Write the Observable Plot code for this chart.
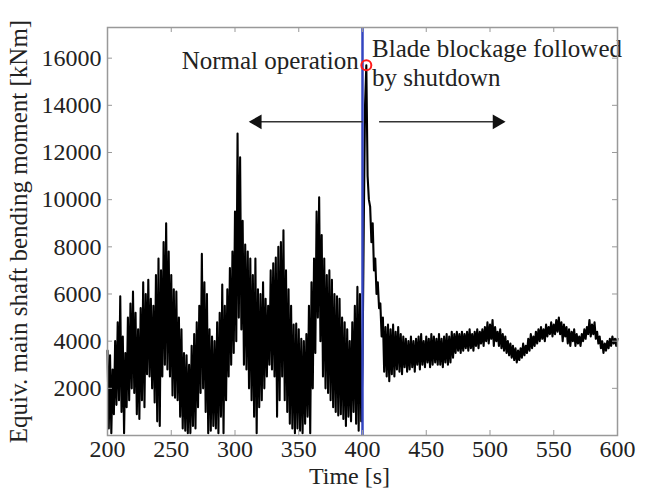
<!DOCTYPE html>
<html><head><meta charset="utf-8">
<script src="https://cdn.jsdelivr.net/npm/d3@7"></script>
<script src="https://cdn.jsdelivr.net/npm/@observablehq/plot@0.6"></script>
<style>body{margin:0;background:#fff}</style>
</head><body><div id="chart"></div>
<script>
// Time axis and value axis ticks
const xTicks = [200, 250, 300, 350, 400, 450, 500, 550, 600];
const yTicks = [2000, 4000, 6000, 8000, 10000, 12000, 14000, 16000];

// Sampling of the series (s)
const sampleStep = 1;

// Normal operation: t = 200 ... 399 s (kNm)
const normalStart = 200;
const normalValues = [
  3600,300,3400,100,2800,900,4000,1300,4800,1500,
  5900,1000,4200,100,3500,1200,5000,1500,5600,2000,
  6100,1800,5200,900,4500,700,5400,1500,6500,1200,
  6000,2600,6600,2500,5800,2000,5500,1400,6800,600,
  7500,400,7000,2500,8200,3000,9000,2800,7800,2500,
  6800,1700,6200,1600,6100,1500,5000,800,4500,300,
  3500,200,3400,100,3000,100,3800,400,4300,300,
  4800,1200,5500,1800,7700,2000,6500,1000,6000,100,
  4500,200,4200,400,4000,300,4800,100,5200,800,
  6400,100,5500,1500,6200,2500,7100,3000,7800,3500,
  9500,4000,12800,5000,11800,4500,9100,3000,8100,2800,
  7800,2000,7500,1500,6800,800,7500,100,6200,1200,
  6000,1500,6500,2000,5800,2500,5500,3000,7000,2800,
  7300,2500,7550,800,8000,1500,8200,2500,8700,1500,
  7000,1000,6200,500,5500,300,4700,100,4750,300,
  4500,200,4100,100,4000,500,4300,800,5500,100,
  6500,2000,7500,3500,9500,5000,10100,4000,8500,2500,
  7500,2000,6800,1800,7000,1500,6600,1200,6000,1000,
  5900,850,5800,900,5000,700,4800,400,4500,800,
  4000,600,4800,1000,5500,500,6300,200,6000,600
];

// Blade blockage followed by shutdown: t = 400 ... 600 s (kNm)
const blockageStart = 400;
const blockageValues = [
  3000,9000,14000,15700,11000,10000,9700,8200,9000,7000,
  7500,6000,6500,5400,5600,4200,5000,2700,4600,2500,
  4700,2300,4500,2600,4700,2500,4400,2800,4600,2700,
  4300,2600,4200,2900,4100,2700,4000,2800,4200,2900,
  4000,2700,4100,3000,4200,2800,4300,3000,4000,2900,
  4200,3100,4100,2900,4300,3000,4200,3100,4100,3000,
  4300,3000,4100,2900,4200,3100,4300,3000,4200,3100,
  4400,3300,4300,3500,4400,3600,4300,3500,4400,3600,
  4300,3700,4400,3600,4500,3700,4300,3600,4400,3800,
  4500,3700,4400,3900,4500,3800,4600,4000,4800,3900,
  4700,4100,4900,3800,4600,4000,4400,3800,4500,3700,
  4300,3600,4200,3500,4000,3400,3900,3300,3800,3200,
  3700,3100,3600,3200,3700,3300,3900,3400,3800,3500,
  4100,3600,4300,3700,4200,3800,4400,3900,4500,4000,
  4600,4100,4500,4000,4700,4200,4600,4300,4800,4200,
  4700,4300,4900,4400,5000,4300,4800,4000,4700,4200,
  4600,3900,4500,3800,4400,4000,4500,3800,4300,3900,
  4200,3800,4300,4000,4500,4100,4600,4300,4900,4200,
  4700,4300,4800,4100,4400,3900,4200,3700,4000,3500,
  3900,3600,4000,3700,4100,3800,4200,3900,4100,3800,
  4100
];

// Event markers
const eventTime = [400];
const peakPoint = [{t: 403, v: 15700}];
const arrowLevel = 13300;
const leftArrow = [{from: 400, to: 312}];
const rightArrow = [{from: 413, to: 511}];
const leftNotes = [{t: 397, v: 15900, label: "Normal operation"}];
const rightNotes = [
  {t: 407.5, v: 16370, label: "Blade blockage followed"},
  {t: 407.5, v: 15140, label: "by shutdown"}
];
const xLabel = "Time [s]";
const yLabel = "Equiv. main shaft bending moment [kNm]";

const series = [
  ...normalValues.map((v, i) => ({t: normalStart + i * sampleStep, v})),
  ...blockageValues.map((v, i) => ({t: blockageStart + i * sampleStep, v}))
];

const W = 649, H = 492, mL = 107, mR = 32, mT = 27, mB = 57;
const innerW = W - mL - mR, innerH = H - mT - mB;
const tick = 5;
const frameColor = "#999";
const arrowColor = "#333";

const chart = Plot.plot({
  width: W, height: H,
  marginLeft: mL, marginRight: mR, marginTop: mT, marginBottom: mB,
  style: {fontFamily: "'Liberation Serif', 'Times New Roman', serif", fontSize: "24px", color: "#222", background: "#fff"},
  x: {domain: [200, 600]},
  y: {domain: [0, 17300]},
  marks: [
    Plot.line(series, {x: "t", y: "v", stroke: "#000", strokeWidth: 2.1}),
    Plot.ruleX(eventTime, {x: d => d, stroke: "#3345c0", strokeWidth: 2.5}),
    Plot.dot(peakPoint, {x: "t", y: "v", r: 5, stroke: "#ff1a1a", strokeWidth: 2, fill: "none"}),
    Plot.link(leftArrow, {x1: "from", x2: "to", y1: () => arrowLevel, y2: () => arrowLevel, stroke: arrowColor, strokeWidth: 1.5}),
    Plot.link(rightArrow, {x1: "from", x2: "to", y1: () => arrowLevel, y2: () => arrowLevel, stroke: arrowColor, strokeWidth: 1.5}),
    Plot.dot(leftArrow, {x: "to", y: () => arrowLevel, symbol: "triangle", r: 5.5, rotate: -90, dx: 7, fill: "#111", stroke: "none"}),
    Plot.dot(rightArrow, {x: "to", y: () => arrowLevel, symbol: "triangle", r: 5.5, rotate: 90, dx: -7, fill: "#111", stroke: "none"}),
    Plot.text(leftNotes, {x: "t", y: "v", text: "label", textAnchor: "end", lineAnchor: "middle", fill: "#222", fontSize: 25}),
    Plot.text(rightNotes, {x: "t", y: "v", text: "label", textAnchor: "start", lineAnchor: "middle", fill: "#222", fontSize: 25}),
    Plot.frame({stroke: frameColor, strokeWidth: 1.5}),
    Plot.tickX(xTicks, {x: d => d, insetTop: innerH - tick, stroke: frameColor}),
    Plot.tickX(xTicks, {x: d => d, insetBottom: innerH - tick, stroke: frameColor}),
    Plot.tickY(yTicks, {y: d => d, insetRight: innerW - tick, stroke: frameColor}),
    Plot.tickY(yTicks, {y: d => d, insetLeft: innerW - tick, stroke: frameColor}),
    Plot.axisX(xTicks, {tickSize: 0, tickPadding: 4, label: null, tickFormat: d => String(d)}),
    Plot.axisY(yTicks, {tickSize: 0, tickPadding: 6, label: null, tickFormat: d => String(d)}),
    Plot.text([xLabel], {text: d => d, frameAnchor: "bottom", textAnchor: "middle", lineAnchor: "middle", dx: -13, dy: 41, fill: "#222", fontSize: 24}),
    Plot.text([yLabel], {text: d => d, frameAnchor: "left", textAnchor: "middle", lineAnchor: "middle", dx: -89, rotate: -90, fill: "#222", fontSize: 25})
  ]
});
document.getElementById("chart").append(chart);
</script>
</body></html>
